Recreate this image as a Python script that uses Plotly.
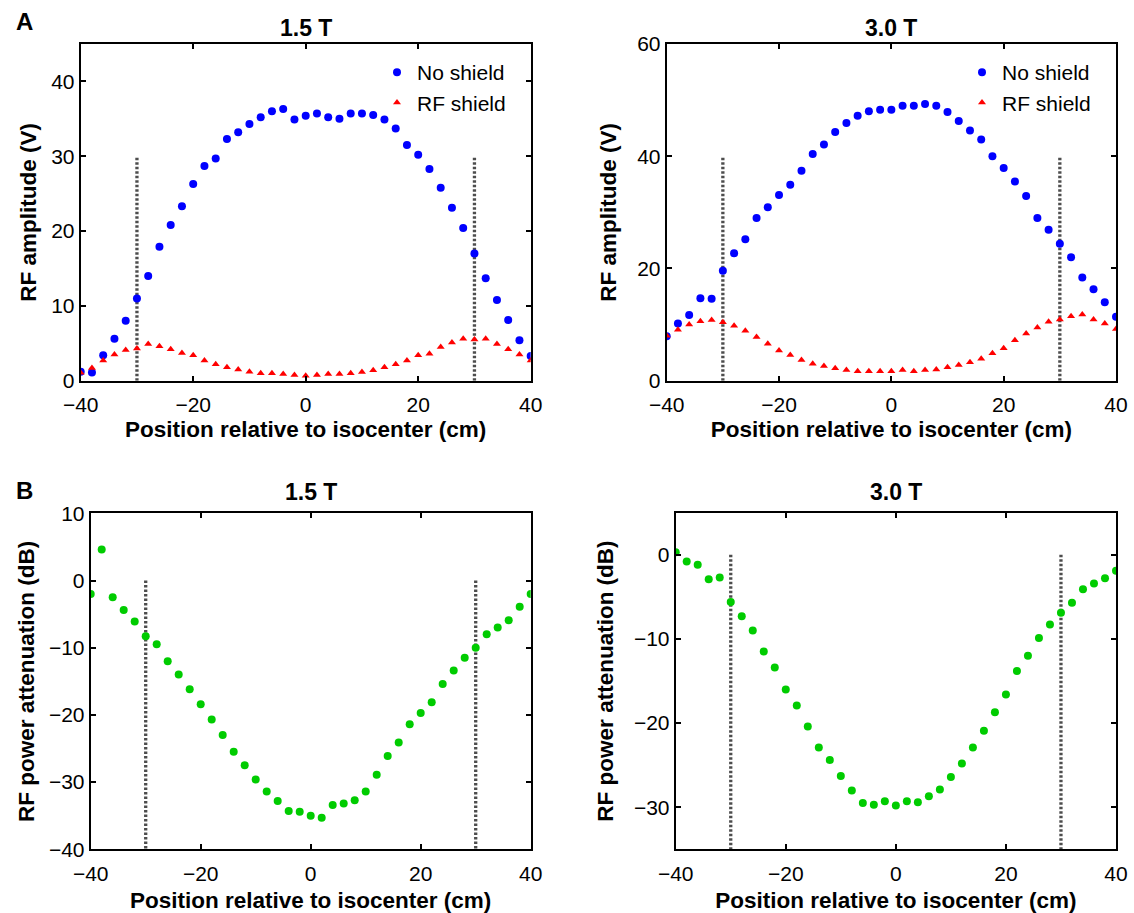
import plotly.graph_objects as go

# ---------------- data ----------------
position = [-40, -38, -36, -34, -32, -30, -28, -26, -24, -22, -20, -18, -16, -14, -12, -10, -8, -6, -4, -2,
            0, 2, 4, 6, 8, 10, 12, 14, 16, 18, 20, 22, 24, 26, 28, 30, 32, 34, 36, 38, 40]

no_shield_15 = [1.2, 1.1, 3.4, 5.6, 8.0, 11.0, 14.0, 17.9, 20.8, 23.3, 26.3, 28.7, 29.7, 32.3, 33.2, 34.3, 35.2,
                36.0, 36.3, 34.9, 35.4, 35.7, 35.2, 35.0, 35.7, 35.7, 35.5, 34.9, 33.7, 31.5, 30.2, 28.3, 25.8,
                23.1, 20.4, 17.0, 13.7, 10.8, 8.1, 5.4, 3.3]
rf_shield_15 = [1.06, 1.7, 2.7, 3.5, 4.1, 4.3, 4.9, 4.6, 4.2, 3.7, 3.4, 2.7, 2.2, 1.8, 1.5, 1.2, 1.0, 1.0, 0.9,
                0.75, 0.67, 0.75, 0.9, 0.9, 1.0, 1.15, 1.4, 1.8, 2.2, 2.7, 3.4, 3.6, 4.5, 5.1, 5.6, 5.5, 5.6,
                4.9, 4.2, 3.5, 2.7]

no_shield_30 = [7.9, 10.2, 11.7, 14.7, 14.6, 19.6, 22.7, 25.2, 29.0, 30.9, 33.1, 34.9, 37.4, 40.4, 42.1, 44.3,
                45.9, 47.2, 48.0, 48.3, 48.3, 49.0, 49.0, 49.3, 49.0, 47.9, 46.3, 44.6, 43.0, 40.0, 37.9, 35.5,
                32.9, 29.0, 26.9, 24.4, 22.0, 18.4, 16.3, 14.0, 11.4]
rf_shield_30 = [8.0, 9.1, 10.0, 10.6, 10.8, 10.4, 9.8, 8.9, 7.8, 6.6, 5.4, 4.6, 3.7, 3.0, 2.6, 2.2, 1.9, 1.7,
                1.7, 1.7, 1.7, 1.9, 1.7, 1.9, 2.0, 2.4, 2.8, 3.3, 3.9, 4.9, 5.8, 7.2, 8.4, 9.5, 10.5, 10.9,
                11.5, 11.8, 10.9, 10.2, 9.2]

atten_15 = [-2.0, 4.6, -2.5, -4.4, -6.1, -8.3, -9.5, -12.0, -14.0, -16.2, -18.4, -20.7, -23.0, -25.5, -27.5,
            -29.6, -31.4, -32.8, -34.3, -34.4, -35.0, -35.3, -33.4, -33.2, -32.7, -31.4, -28.9, -26.1, -24.1,
            -21.4, -19.7, -18.1, -15.4, -13.4, -11.5, -10.0, -8.0, -7.0, -5.9, -3.9, -2.0]
atten_30 = [0.3, -0.8, -1.2, -2.9, -2.7, -5.6, -7.3, -9.0, -11.5, -13.4, -16.0, -17.9, -20.4, -22.9, -24.4,
            -26.3, -28.0, -29.5, -29.7, -29.3, -29.8, -29.3, -29.4, -28.7, -27.9, -26.4, -24.8, -22.9, -20.9,
            -18.7, -16.6, -13.8, -12.0, -9.9, -8.3, -6.9, -5.7, -4.1, -3.4, -2.8, -1.9]

coil_edges = [-30, 30]
edge_span_A15 = [0, 30]
edge_span_A30 = [0, 40]
edge_span_B15 = [0, -40]
edge_span_B30 = [0, -35]

panel_titles = ["1.5 T", "3.0 T", "1.5 T", "3.0 T"]
x_title = "Position relative to isocenter (cm)"
y_title_A = "RF amplitude (V)"
y_title_B = "RF power attenuation (dB)"

# ---------------- styling ----------------
W, H = 1134, 913
FONT = "Liberation Sans, Arial, sans-serif"
BLUE = "#0000FF"
RED = "#FF0000"
GREEN = "#00CC00"
GRAY = "#4d4d4d"

def px_x(p):
    return p / W

def px_y(p):
    return 1 - p / H

fig = go.Figure()

panels = {
    "A15": dict(xa="x", ya="y", xd=[px_x(80.7), px_x(530.7)], yd=[px_y(380.7), px_y(44)], yr=[0, 45], dt=10,
                xs=6, ys=8),
    "A30": dict(xa="x2", ya="y2", xd=[px_x(666.7), px_x(1116)], yd=[px_y(380.7), px_y(44)], yr=[0, 60], dt=20,
                xs=6, ys=14),
    "B15": dict(xa="x3", ya="y3", xd=[px_x(90.7), px_x(530.7)], yd=[px_y(849.3), px_y(513.3)], yr=[-40, 10], dt=10,
                xs=8.5, ys=8),
    "B30": dict(xa="x4", ya="y4", xd=[px_x(675.7), px_x(1116)], yd=[px_y(849.3), px_y(512.7)], yr=[-35, 5], dt=10,
                xs=8.5, ys=14),
}

# dotted coil-edge lines
for key, span in [("A15", edge_span_A15), ("A30", edge_span_A30), ("B15", edge_span_B15), ("B30", edge_span_B30)]:
    p = panels[key]
    for xe in coil_edges:
        fig.add_trace(go.Scatter(x=[xe, xe], y=span, mode="lines", xaxis=p["xa"], yaxis=p["ya"],
                                 line=dict(color=GRAY, width=3.3, dash="2.5px,2px"), showlegend=False,
                                 hoverinfo="skip"))

# panel A data
for key, ns, rs, leg in [("A15", no_shield_15, rf_shield_15, "legend"), ("A30", no_shield_30, rf_shield_30, "legend2")]:
    p = panels[key]
    fig.add_trace(go.Scatter(x=position, y=ns, mode="markers", name="No shield", xaxis=p["xa"], yaxis=p["ya"],
                             marker=dict(color=BLUE, size=8, symbol="circle"), legend=leg, legendgroup=key + "a"))
    fig.add_trace(go.Scatter(x=position, y=rs, mode="markers", name="RF shield", xaxis=p["xa"], yaxis=p["ya"],
                             marker=dict(color=RED, size=7, symbol="triangle-up"), legend=leg, legendgroup=key + "b"))

# panel B data
for key, vals in [("B15", atten_15), ("B30", atten_30)]:
    p = panels[key]
    fig.add_trace(go.Scatter(x=position, y=vals, mode="markers", xaxis=p["xa"], yaxis=p["ya"],
                             marker=dict(color=GREEN, size=8), showlegend=False))

axis_common = dict(showline=True, linecolor="black", linewidth=2, mirror="ticks", ticks="inside",
                   ticklen=5, tickwidth=1.5, tickcolor="black", showgrid=False, zeroline=False,
                   automargin=False,
                   tickfont=dict(family=FONT, size=21, color="black"))

layout_axes = {}
for i, key in enumerate(["A15", "A30", "B15", "B30"]):
    p = panels[key]
    sfx = "" if i == 0 else str(i + 1)
    ytitle = y_title_A if key.startswith("A") else y_title_B
    layout_axes["xaxis" + sfx] = dict(axis_common, domain=p["xd"], anchor=p["ya"], range=[-40, 40], dtick=20,
                                      tick0=0, ticklabelstandoff=4,
                                      title=dict(text="<b>" + x_title + "</b>", standoff=p["xs"],
                                                 font=dict(family=FONT, size=22.5, color="black")))
    layout_axes["yaxis" + sfx] = dict(axis_common, domain=p["yd"], anchor=p["xa"], range=p["yr"], dtick=p["dt"],
                                      tick0=0,
                                      title=dict(text="<b>" + ytitle + "</b>", standoff=p["ys"],
                                                 font=dict(family=FONT, size=22.5, color="black")))

annotations = []
title_pos = [(305.7, 28), (891.3, 28), (310.7, 492), (895.8, 492)]
for t, (cx, cy) in zip(panel_titles, title_pos):
    annotations.append(dict(text="<b>" + t + "</b>", x=px_x(cx), y=px_y(cy), xref="paper", yref="paper",
                            showarrow=False, xanchor="center", yanchor="middle",
                            font=dict(family=FONT, size=23, color="black")))
for t, cy in [("A", 22), ("B", 490)]:
    annotations.append(dict(text="<b>" + t + "</b>", x=px_x(24), y=px_y(cy), xref="paper", yref="paper",
                            showarrow=False, xanchor="center", yanchor="middle",
                            font=dict(family=FONT, size=24, color="black")))

legend_common = dict(font=dict(family=FONT, size=21, color="black"), bgcolor="rgba(0,0,0,0)",
                     borderwidth=0, traceorder="grouped", tracegroupgap=0, itemwidth=30,
                     xanchor="left", yanchor="top")

fig.update_layout(
    template="none",
    width=W, height=H,
    margin=dict(l=0, r=0, t=0, b=0),
    paper_bgcolor="white", plot_bgcolor="white",
    font=dict(family=FONT, color="black"),
    annotations=annotations,
    legend=dict(legend_common, x=px_x(377), y=px_y(52)),
    legend2=dict(legend_common, x=px_x(962), y=px_y(52)),
    **layout_axes,
)

fig.write_html("out.html", config={"displayModeBar": False},
               post_script="document.body.style.margin='0px';")
